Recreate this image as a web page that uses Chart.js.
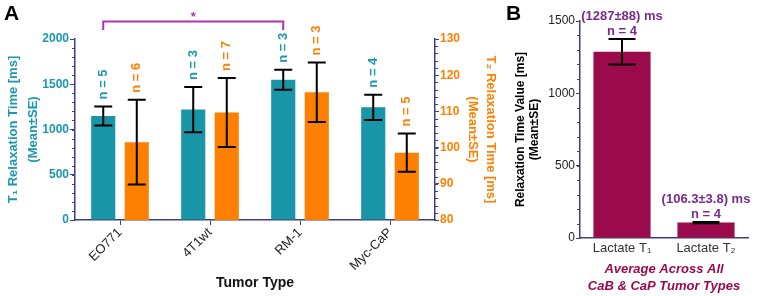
<!DOCTYPE html>
<html>
<head>
<meta charset="utf-8">
<script src="https://cdn.jsdelivr.net/npm/chart.js@4/dist/chart.umd.min.js"></script>
<style>
  body { margin: 0; background: #fff; }
  #wrap { position: relative; width: 760px; height: 296px; }
  canvas { position: absolute; top: 0; }
</style>
</head>
<body>
<div id="wrap">
  <canvas id="chartA" width="500" height="296" style="left:0"></canvas>
  <canvas id="chartB" width="260" height="296" style="left:500px"></canvas>
</div>
<script>
// Panel A data
const tumorTypes = ['EO771', '4T1wt', 'RM-1', 'Myc-CaP'];
const t1Mean = [1150, 1220, 1550, 1245];
const t1Err = [105, 250, 110, 140];
const t1N = [5, 3, 3, 4];
const t2Mean = [101.5, 109.7, 115.3, 98.6];
const t2Err = [11.7, 9.5, 8.2, 5.3];
const t2N = [6, 7, 3, 5];

// Panel B data
const lactateLabels = ['Lactate T\u2081', 'Lactate T\u2082'];
const lactateMean = [1287, 106.3];
const lactateErr = [88, 3.8];
const lactateN = [4, 4];
const lactateText = ['(1287\u00b188) ms', '(106.3\u00b13.8) ms'];

const TEAL = '#1896a8';
const TEAL_TXT = '#1a98b0';
const ORANGE = '#ff8000';
const NAVY = '#3e3e80';
const MAROON = '#9b0a4b';
const PURPLE = '#7b2a8c';
const SIG = '#b02fb5';
const FONT = 'Arial, "Liberation Sans", sans-serif';

Chart.defaults.font.family = FONT;
Chart.defaults.animation = false;

const plainNum = v => String(v);

// minor tick marks on y axes
function minorTicks(chart, axisId, step, side) {
  const s = chart.scales[axisId];
  const ctx = chart.ctx;
  ctx.save();
  ctx.strokeStyle = NAVY;
  ctx.lineWidth = 1;
  const x = side === 'left' ? s.right : s.left;
  for (let v = s.min; v <= s.max + 1e-6; v += step) {
    const y = Math.round(s.getPixelForValue(v)) + 0.5;
    ctx.beginPath();
    ctx.moveTo(x, y);
    ctx.lineTo(side === 'left' ? x - 3 : x + 3, y);
    ctx.stroke();
  }
  ctx.restore();
}

function errorBar(ctx, x, yTop, yBot, cap) {
  ctx.beginPath();
  ctx.moveTo(x, yTop); ctx.lineTo(x, yBot);
  ctx.moveTo(x - cap / 2, yTop); ctx.lineTo(x + cap / 2, yTop);
  ctx.moveTo(x - cap / 2, yBot); ctx.lineTo(x + cap / 2, yBot);
  ctx.stroke();
}

const panelAPlugin = {
  id: 'panelA',
  afterDatasetsDraw(chart) {
    const ctx = chart.ctx;
    const yL = chart.scales.y, yR = chart.scales.y2;
    minorTicks(chart, 'y', 100, 'left');
    minorTicks(chart, 'y2', 2, 'right');
    ctx.save();
    ctx.strokeStyle = '#000';
    ctx.lineWidth = 2;
    const sets = [
      { meta: chart.getDatasetMeta(0), mean: t1Mean, err: t1Err, n: t1N, sc: yL, col: TEAL_TXT },
      { meta: chart.getDatasetMeta(1), mean: t2Mean, err: t2Err, n: t2N, sc: yR, col: ORANGE }
    ];
    sets.forEach(s => {
      s.meta.data.forEach((bar, i) => {
        const top = s.sc.getPixelForValue(s.mean[i] + s.err[i]);
        const bot = s.sc.getPixelForValue(s.mean[i] - s.err[i]);
        errorBar(ctx, bar.x, top, bot, 18);
        // n label, rotated
        ctx.save();
        ctx.translate(bar.x, top - 7);
        ctx.rotate(-Math.PI / 2);
        ctx.fillStyle = s.col;
        ctx.font = 'bold 13px ' + FONT;
        ctx.textAlign = 'left';
        ctx.textBaseline = 'middle';
        ctx.fillText('n = ' + s.n[i], 0, 0);
        ctx.restore();
      });
    });
    // significance bracket EO771 vs RM-1 (T1)
    const m0 = chart.getDatasetMeta(0).data;
    const x1 = m0[0].x, x2 = m0[2].x;
    const yh = 21.5, yl = 30;
    ctx.strokeStyle = SIG;
    ctx.lineWidth = 2;
    ctx.beginPath();
    ctx.moveTo(x1, yl); ctx.lineTo(x1, yh); ctx.lineTo(x2, yh); ctx.lineTo(x2, yl);
    ctx.stroke();
    ctx.fillStyle = SIG;
    ctx.font = 'bold 13px ' + FONT;
    ctx.textAlign = 'center';
    ctx.textBaseline = 'middle';
    ctx.fillText('*', (x1 + x2) / 2, 17);
    // panel letter
    ctx.fillStyle = '#000';
    ctx.font = 'bold 21px ' + FONT;
    ctx.textAlign = 'left';
    ctx.textBaseline = 'top';
    ctx.fillText('A', 4, 4);
    ctx.restore();
  }
};

new Chart(document.getElementById('chartA'), {
  type: 'bar',
  data: {
    labels: tumorTypes,
    datasets: [
      { label: 'T1', data: t1Mean, backgroundColor: TEAL, yAxisID: 'y',
        categoryPercentage: 0.745, barPercentage: 0.72 },
      { label: 'T2', data: t2Mean, backgroundColor: ORANGE, yAxisID: 'y2',
        categoryPercentage: 0.745, barPercentage: 0.72 }
    ]
  },
  options: {
    responsive: false,
    layout: { padding: { top: 39, left: 0, right: 0, bottom: 0 } },
    plugins: { legend: { display: false }, tooltip: { enabled: false } },
    scales: {
      x: {
        afterFit: s => { s.height = 76; },
        grid: { drawOnChartArea: false, offset: false, tickLength: 5, color: NAVY },
        border: { color: NAVY, width: 1.5 },
        ticks: { color: '#222', font: { size: 13 }, minRotation: 45, maxRotation: 45, padding: 0 },
        title: { display: true, text: 'Tumor Type', color: '#111',
                 font: { size: 14, weight: 'bold' }, padding: { top: 0, bottom: 4 } }
      },
      y: {
        position: 'left', min: 0, max: 2000,
        afterFit: s => { s.width = 75; },
        grid: { drawOnChartArea: false, tickLength: 5, color: NAVY },
        border: { color: NAVY, width: 1.5 },
        ticks: { stepSize: 500, callback: plainNum, color: TEAL_TXT, font: { size: 12, weight: 'bold' }, padding: 1 },
        title: { display: true, text: ['T\u2081 Relaxation Time [ms]', '(Mean\u00b1SE)'], color: TEAL_TXT,
                 font: { size: 13, weight: 'bold', lineHeight: 1.5 }, padding: { top: 4, bottom: 0 } }
      },
      y2: {
        position: 'right', min: 80, max: 130,
        afterFit: s => { s.width = 65; },
        grid: { drawOnChartArea: false, tickLength: 4, color: NAVY },
        border: { color: NAVY, width: 1.5 },
        ticks: { stepSize: 10, callback: plainNum, color: ORANGE, font: { size: 12, weight: 'bold' }, padding: 1 },
        title: { display: true, text: ['T\u2082 Relaxation Time [ms]', '(Mean\u00b1SE)'], color: ORANGE,
                 font: { size: 13, weight: 'bold', lineHeight: 1.35 }, padding: { top: 1, bottom: 0 } }
      }
    }
  },
  plugins: [panelAPlugin]
});

const panelBPlugin = {
  id: 'panelB',
  afterDatasetsDraw(chart) {
    const ctx = chart.ctx;
    const y = chart.scales.y;
    minorTicks(chart, 'y', 100, 'left');
    ctx.save();
    ctx.strokeStyle = '#000';
    ctx.lineWidth = 2;
    chart.getDatasetMeta(0).data.forEach((bar, i) => {
      const top = y.getPixelForValue(lactateMean[i] + lactateErr[i]);
      const bot = y.getPixelForValue(lactateMean[i] - lactateErr[i]);
      errorBar(ctx, bar.x, top, bot, 27);
      ctx.fillStyle = PURPLE;
      ctx.font = 'bold 13px ' + FONT;
      ctx.textAlign = 'center';
      ctx.textBaseline = 'middle';
      ctx.fillText('n = ' + lactateN[i], bar.x, top - 8);
      ctx.fillText(lactateText[i], bar.x, top - 23);
    });
    ctx.fillStyle = '#000';
    ctx.font = 'bold 21px ' + FONT;
    ctx.textAlign = 'left';
    ctx.textBaseline = 'top';
    ctx.fillText('B', 6, 4);
    ctx.restore();
  }
};

new Chart(document.getElementById('chartB'), {
  type: 'bar',
  data: {
    labels: lactateLabels,
    datasets: [{ label: 'Lactate', data: lactateMean, backgroundColor: MAROON,
                 categoryPercentage: 1, barPercentage: 0.68 }]
  },
  options: {
    responsive: false,
    layout: { padding: { top: 21, left: 0, right: 12, bottom: 0 } },
    plugins: { legend: { display: false }, tooltip: { enabled: false } },
    scales: {
      x: {
        afterFit: s => { s.height = 58; },
        grid: { drawOnChartArea: false, drawTicks: false },
        border: { color: NAVY, width: 1.5 },
        ticks: { color: '#333', font: { size: 13 }, padding: 3 },
        title: { display: true, text: ['Average Across All', 'CaB & CaP Tumor Types'], color: MAROON,
                 font: { size: 13, weight: 'bold', style: 'italic', lineHeight: 1.3 }, padding: { top: 0, bottom: 1 } }
      },
      y: {
        min: 0, max: 1500,
        afterFit: s => { s.width = 80; },
        grid: { drawOnChartArea: false, tickLength: 4, color: NAVY },
        border: { color: NAVY, width: 1.5 },
        ticks: { stepSize: 500, callback: plainNum, color: '#222', font: { size: 12 }, padding: 1 },
        title: { display: true, text: ['Relaxation Time Value [ms]', '(Mean\u00b1SE)'], color: '#000',
                 font: { size: 12, weight: 'bold', lineHeight: 1.2 }, padding: { top: 13, bottom: 0 } }
      }
    }
  },
  plugins: [panelBPlugin]
});
</script>
</body>
</html>
